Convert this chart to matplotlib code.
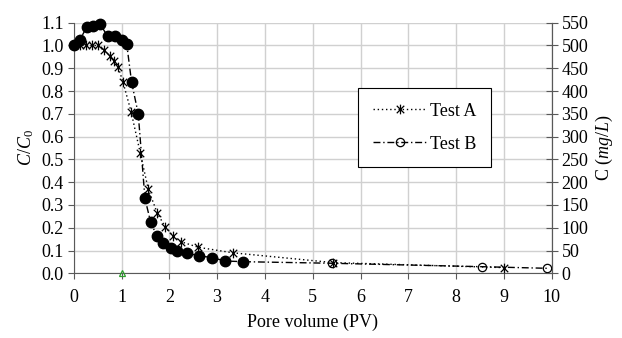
import numpy as np
import matplotlib.pyplot as plt
from matplotlib.path import Path
from matplotlib.lines import Line2D

plt.rcParams['font.family'] = 'serif'
plt.rcParams['font.serif'] = ['Liberation Serif', 'DejaVu Serif']
plt.rcParams['font.size'] = 13
plt.rcParams['mathtext.fontset'] = 'custom'
plt.rcParams['mathtext.rm'] = 'Liberation Serif'
plt.rcParams['mathtext.it'] = 'Liberation Serif:italic'

# Test A (C/C0)
pv_a = [0, 0.13, 0.25, 0.38, 0.5, 0.63, 0.75, 0.85, 0.93, 1.03, 1.2, 1.39,
        1.56, 1.75, 1.92, 2.08, 2.24, 2.61, 3.33, 5.43, 9.0]
cc_a = [1.0, 1.0, 1.0, 1.0, 1.0, 0.98, 0.955, 0.93, 0.905, 0.84, 0.71, 0.53,
        0.369, 0.263, 0.202, 0.164, 0.139, 0.114, 0.09, 0.047, 0.025]

# Test B (C/C0)
pv_b = [0, 0.13, 0.27, 0.41, 0.55, 0.71, 0.86, 1.0, 1.11, 1.21, 1.35, 1.49,
        1.61, 1.74, 1.87, 2.04, 2.17, 2.38, 2.62, 2.89, 3.17, 3.55,
        5.41, 8.55, 9.9]
cc_b = [1.0, 1.025, 1.08, 1.085, 1.095, 1.04, 1.04, 1.024, 1.005, 0.84, 0.70, 0.329,
        0.224, 0.164, 0.134, 0.11, 0.10, 0.088, 0.077, 0.069, 0.054, 0.051,
        0.044, 0.029, 0.022]
n_filled = 22  # first points drawn as big solid dots

# marker at 1 PV
pv_mark = [1]
cc_mark = [0]

star = Path([(-1, -1), (1, 1), (-1, 1), (1, -1), (0, -1.3), (0, 1.3)],
            [Path.MOVETO, Path.LINETO, Path.MOVETO, Path.LINETO, Path.MOVETO, Path.LINETO])
dash_b = (0, (5, 2, 1, 2))

fig = plt.figure(figsize=(6.22, 3.38), dpi=100)
ax = fig.add_axes([0.1185, 0.1914, 0.7685, 0.7414])

ax.plot(pv_a, cc_a, color='black', linestyle=(0, (1, 2)), linewidth=1.0,
        marker=star, markersize=7, markeredgewidth=0.9, zorder=4, clip_on=False)
ax.plot(pv_b, cc_b, color='black', linestyle=dash_b, linewidth=1.0,
        marker='o', markersize=6, markerfacecolor='none', markeredgewidth=0.9,
        markevery=list(range(n_filled, len(pv_b))), zorder=3, clip_on=False)
ax.plot(pv_b[:n_filled], cc_b[:n_filled], linestyle='none', marker='o',
        markersize=7.5, color='black', zorder=3, clip_on=False)
ax.plot(pv_mark, cc_mark, linestyle='none', marker='^', markersize=5,
        markerfacecolor='none', markeredgecolor='#2ca02c', markeredgewidth=0.9,
        zorder=5, clip_on=False)

ax.set_xlim(0, 10)
ax.set_ylim(0, 1.1)
ax.set_xticks(np.arange(0, 11, 1))
ax.set_yticks(np.arange(0, 1.11, 0.1))
ax.set_yticklabels(['%.1f' % v for v in np.arange(0, 1.11, 0.1)])
ax.grid(True, color='#d0d0d0', linewidth=1.0)
ax.set_axisbelow(True)
ax.tick_params(direction='out', length=4, color='#595959', pad=3)
ax.tick_params(axis='x', pad=7)
for s in ['left', 'bottom', 'right']:
    ax.spines[s].set_color('#595959')
ax.spines['top'].set_visible(False)

ax.set_xlabel('Pore volume (PV)', labelpad=6)
ax.set_ylabel(r'$\it{C/C_0}$', labelpad=4)

ax2 = ax.twinx()
ax2.set_ylim(0, 550)
ax2.set_yticks(np.arange(0, 551, 50))
ax2.tick_params(direction='inout', length=8, color='#595959', pad=3)
ax2.spines['right'].set_color('#595959')
ax2.spines['top'].set_visible(False)
ax2.spines['left'].set_visible(False)
ax2.spines['bottom'].set_visible(False)
ax2.set_ylabel(r'C ($\it{mg/L}$)', labelpad=4)

handles = [Line2D([], [], color='black', linestyle=(0, (1, 2)), linewidth=1.0,
                  marker=star, markersize=7, markeredgewidth=0.9),
           Line2D([], [], color='black', linestyle=dash_b, linewidth=1.0,
                  marker='o', markersize=6, markerfacecolor='none', markeredgewidth=0.9)]
leg = ax.legend(handles, ['Test A', 'Test B'], loc='upper left',
                bbox_to_anchor=(0.595, 0.739), fancybox=False, framealpha=1,
                edgecolor='black', borderpad=0.8, labelspacing=0.9,
                handlelength=3.0, handletextpad=0.2, borderaxespad=0)
leg.get_frame().set_linewidth(0.8)

plt.savefig('out.png', dpi=100)
